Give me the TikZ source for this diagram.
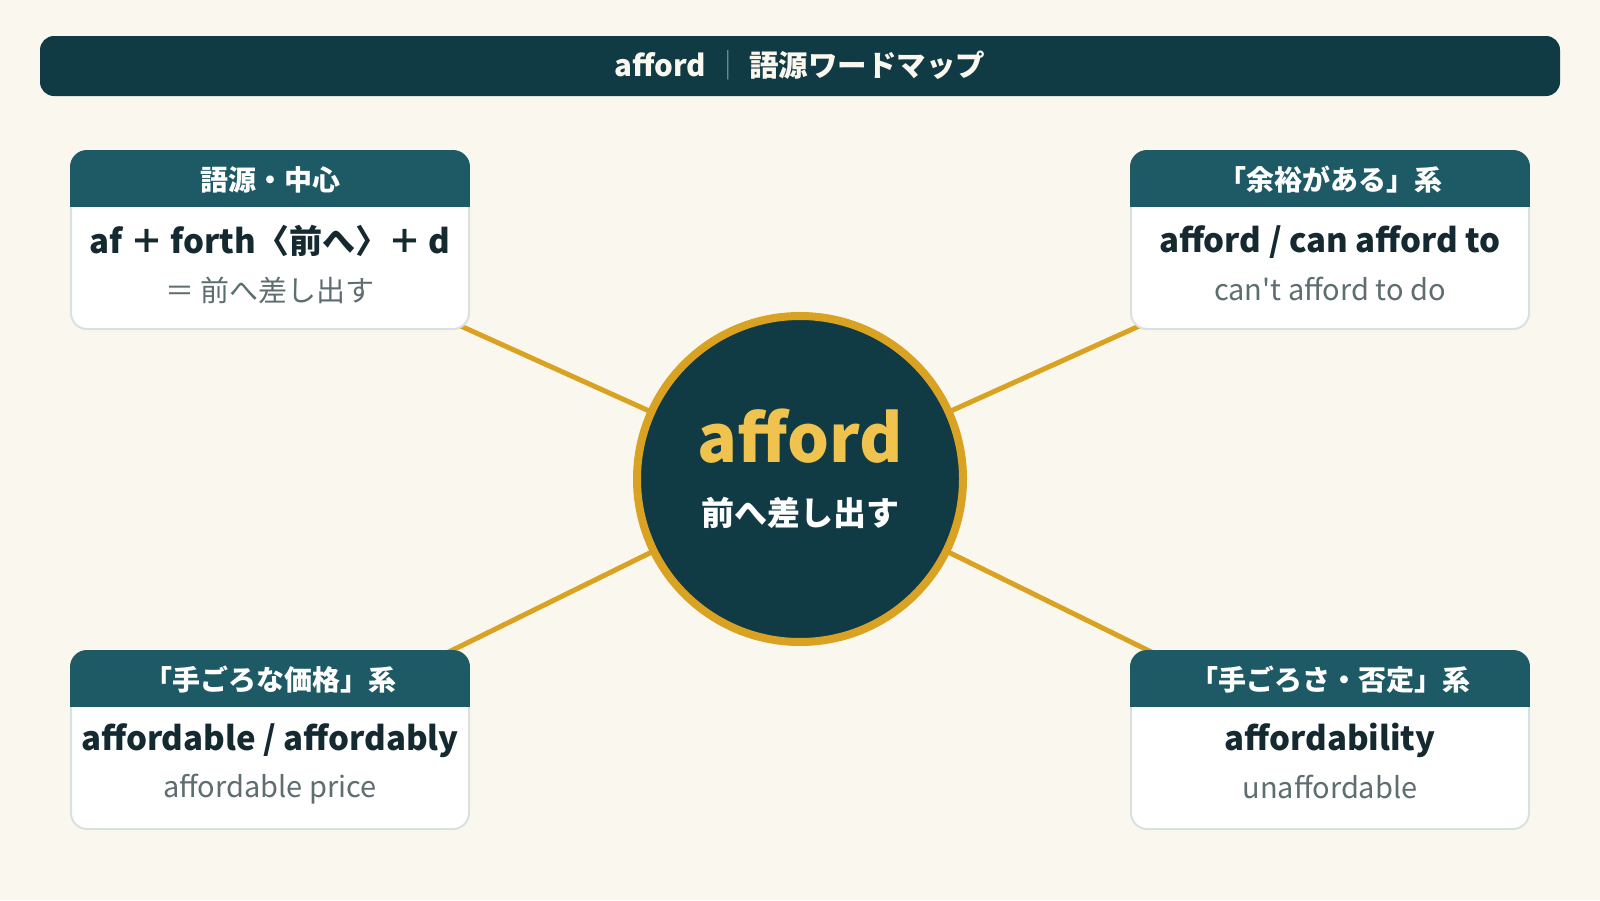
\documentclass[tikz,border=0pt]{standalone}
\usepackage{fontspec}
\setmainfont{Noto Sans CJK JP}[Ligatures=TeXOff]
\usetikzlibrary{positioning}
\definecolor{paper}{HTML}{FAF8EE}
\definecolor{ink}{HTML}{103A44}
\definecolor{teal}{HTML}{1D5A65}
\definecolor{gold}{HTML}{D9A223}
\definecolor{goldtext}{HTML}{EFC34E}
\definecolor{body}{HTML}{152A30}
\definecolor{muted}{HTML}{5E6D6F}
\definecolor{edge}{HTML}{D8E1E1}
\definecolor{bar}{HTML}{7E9599}
\pgfdeclarelayer{back}
\pgfsetlayers{back,main}
\begin{document}
\begin{tikzpicture}[x=1pt,y=-1pt,
    card/.style={draw=edge,line width=2pt,fill=white,rounded corners=16pt,inner sep=0pt,
        minimum width=398pt,minimum height=178pt},
    headtext/.style={anchor=base,text=white,font=\fontsize{28}{33}\selectfont\bfseries},
    maintext/.style={anchor=base,text=body,font=\fontsize{33}{40}\selectfont\bfseries},
    subtext/.style={anchor=base,text=muted,font=\fontsize{29}{34}\selectfont},
    link/.style={draw=gold,line width=5pt}]
    \fill[ink,rounded corners=14pt](40,36) rectangle (1560,96);
    \node[anchor=base,text=paper,font=\fontsize{29.5}{36}\selectfont\bfseries] (title) at (800,76) {afford {\color{bar}\mdseries ｜} 語源ワードマップ};
    \node[circle,draw=gold,fill=ink,line width=8pt,minimum size=326pt] (hub) at (800,479) {};
    \node[anchor=base,text=goldtext,font=\fontsize{66}{76}\selectfont\bfseries] (word) at (800,462) {afford};
    \node[anchor=base,text=white,font=\fontsize{33}{40}\selectfont\bfseries] (sense) at (800,525) {前へ差し出す};
    \node[card] (origin) at (270,240) {};
    \node[card] (ample) at (1330,240) {};
    \node[card] (price) at (270,740) {};
    \node[card] (negate) at (1330,740) {};
    \foreach \c in {origin,ample,price,negate}{
        \begin{scope}
        \clip[rounded corners=17pt](\c.north west) rectangle (\c.south east);
        \fill[teal](\c.north west) rectangle ([yshift=-57pt]\c.north east);
        \end{scope}
    }
    \node[headtext] (h1) at (270,190) {語源・中心};
    \node[maintext] (m1) at (270,253) {af ＋ forth〈前へ〉＋ d};
    \node[subtext] (s1) at (270,301) {＝ 前へ差し出す};
    \node[headtext] (h2) at (1330,190) {「余裕がある」系};
    \node[maintext] (m2) at (1330,252) {afford / can afford to};
    \node[subtext] (s2) at (1330,300) {can't afford to do};
    \node[headtext] (h3) at (270,690) {「手ごろな価格」系};
    \node[maintext] (m3) at (270,750) {affordable / affordably};
    \node[subtext] (s3) at (270,797) {affordable price};
    \node[headtext] (h4) at (1330,690) {「手ごろさ・否定」系};
    \node[maintext] (m4) at (1330,750) {affordability};
    \node[subtext] (s4) at (1330,798) {unaffordable};
    \begin{pgfonlayer}{back}
    \fill[paper](0,0) rectangle (1600,900);
    \draw[link](hub.center)--(origin.center);
    \draw[link](hub.center)--(ample.center);
    \draw[link](hub.center)--(price.center);
    \draw[link](hub.center)--(negate.center);
    \end{pgfonlayer}
\end{tikzpicture}
\end{document}
